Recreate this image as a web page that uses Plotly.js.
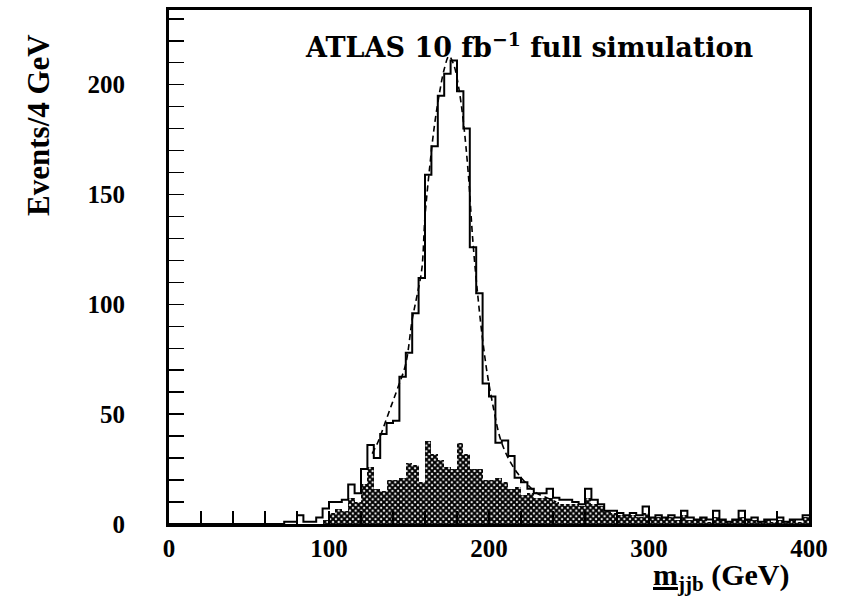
<!DOCTYPE html>
<html>
<head>
<meta charset="utf-8">
<script src="https://cdn.plot.ly/plotly-3.0.1.min.js"></script>
<style>html,body{margin:0;padding:0;background:#fff;}#chart{width:847px;height:600px;}</style>
</head>
<body>
<div id="chart"></div>
<script>
// 4 GeV bins, lower edges 0..396
var binWidth = 4;
var binLow = [];
for (var i = 0; i < 100; i++) binLow.push(i * binWidth);

// total (signal + background), events per bin
var totalEvents = [
  0,0,0,0,0,0,0,0,0,0,
  0,0,0,0,0,0,0,0,1,1,
  4,1,1,3,7,10,10,11,18,14,
  25,36,30,41,46,47,67,78,96,112,
  159,172,195,205,211,197,180,126,105,64,
  58,37,38,31,21,19,16,14,14,16,
  12,11,11,10,9,16,11,9,6,6,
  5,4,5,4,8,3,4,3,4,3,
  6,3,2,3,2,6,2,1,2,6,
  2,3,1,2,2,3,1,2,2,4
];

// background (hatched)
var bkgEvents = [
  0,0,0,0,0,0,0,0,0,0,
  0,0,0,0,0,0,0,0,0,0,
  0,0,0,0,2,5,7,6,12,10,
  18,26,16,15,20,20,21,28,27,19,
  38,32,29,26,25,37,32,25,25,20,
  20,21,19,16,17,13,14,12,12,12,
  10,9,9,9,8,12,9,8,6,5,
  4,4,4,3,5,3,3,3,3,2,
  4,2,2,3,1,3,2,1,2,3,
  2,2,1,2,1,2,1,2,1,3
];

// fitted curve (dashed)
var fitX = [127,131,135,139,143,148,152,155,158,160,163,166,169,172,175,178,181,184,187,190,193,196,199,203,207,212,218,224,230,236,242];
var fitY = [32,38,46,54,62,73,93,104,116,140,163,182,196,207,213,209,199,183,160,128,104,84,68,52,39,30,23,18,14,12,10];

var yTickVals = [0,50,100,150,200];
var xTickVals = [0,100,200,300,400];

var binCenters = binLow.map(function(v){return v + binWidth/2;});
var stepX = binLow.concat([binLow[binLow.length-1] + binWidth]);
var stepY = totalEvents.concat([totalEvents[totalEvents.length-1]]);

var traces = [
  {
    type: 'bar', x: binCenters, y: bkgEvents, width: binWidth,
    marker: {color: 'white', line: {width: 0},
             pattern: {shape: 'x', fgcolor: 'black', bgcolor: 'white', size: 4, solidity: 0.75}},
    hoverinfo: 'skip', showlegend: false
  },
  {
    type: 'scatter', mode: 'lines', x: stepX, y: stepY,
    line: {shape: 'hv', color: 'black', width: 2},
    showlegend: false
  },
  {
    type: 'scatter', mode: 'lines', x: fitX, y: fitY,
    line: {shape: 'spline', color: 'black', width: 1.6, dash: '6px,4px'},
    showlegend: false
  }
];

var tickFont = {family: 'Liberation Serif, serif', size: 25, color: 'black', weight: 'bold'};

var layout = {
  width: 847, height: 600,
  margin: {l: 169, r: 38, t: 10, b: 76},
  paper_bgcolor: 'white', plot_bgcolor: 'white',
  bargap: 0, barmode: 'overlay',
  showlegend: false,
  xaxis: {
    range: [0, 400], tickvals: xTickVals, ticktext: xTickVals.map(String),
    ticks: 'inside', ticklen: 13, tickwidth: 1.5, tickcolor: 'black',
    minor: {dtick: 20, ticks: 'inside', ticklen: 13, tickwidth: 1.5, tickcolor: 'black'},
    showline: true, linecolor: 'black', linewidth: 3, mirror: true,
    showgrid: false, zeroline: false, tickfont: tickFont
  },
  yaxis: {
    range: [0, 234], tickvals: yTickVals, ticktext: yTickVals.map(String),
    ticks: 'inside', ticklen: 15, tickwidth: 1.5, tickcolor: 'black',
    minor: {dtick: 10, ticks: 'inside', ticklen: 15, tickwidth: 1.5, tickcolor: 'black'},
    showline: true, linecolor: 'black', linewidth: 3, mirror: true,
    showgrid: false, zeroline: false, tickfont: tickFont, ticklabelstandoff: 36
  },
  annotations: [
    {
      text: 'ATLAS 10 fb<sup>\u22121</sup> full simulation',
      xref: 'paper', yref: 'paper', x: 0.564, y: 0.93, xanchor: 'center', yanchor: 'middle',
      showarrow: false, font: {family: 'DejaVu Serif, serif', size: 27, color: 'black', weight: 'bold'}
    },
    {
      text: 'Events/4 GeV', textangle: -90,
      xref: 'paper', yref: 'paper', x: -0.205, y: 0.776, xanchor: 'center', yanchor: 'middle',
      showarrow: false, font: {family: 'Liberation Serif, serif', size: 31, color: 'black', weight: 'bold'}
    },
    {
      text: '<b><u>m</u></b><sub><b>jjb</b></sub> <b>(GeV)</b>',
      xref: 'paper', yref: 'paper', x: 0.972, y: -0.104, xanchor: 'right', yanchor: 'middle',
      showarrow: false, font: {family: 'Liberation Serif, serif', size: 30, color: 'black'}
    }
  ]
};

Plotly.newPlot('chart', traces, layout, {displayModeBar: false, staticPlot: true});
</script>
</body>
</html>
